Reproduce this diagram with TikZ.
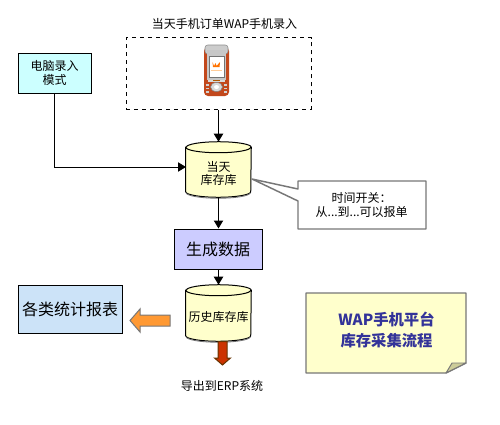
\documentclass[tikz,border=0pt]{standalone}
\usepackage{fontspec}
\setmainfont{Noto Sans CJK SC}
\usetikzlibrary{arrows.meta,calc}
\def\pu{0.75pt}
\definecolor{dbfill}{HTML}{FFFFCC}
\definecolor{graybd}{HTML}{777777}
\definecolor{titleblue}{HTML}{333399}
\definecolor{phonered}{HTML}{C2481C}
\definecolor{pcfill}{HTML}{CCFFFF}
\definecolor{genfill}{HTML}{CCCCFF}
\definecolor{repfill}{HTML}{CCE3F8}
\definecolor{redbd}{HTML}{663300}
\definecolor{redfill}{HTML}{CC3300}
\definecolor{orangefill}{HTML}{FF9933}
\definecolor{foldfill}{HTML}{CCCC99}
\tikzset{
  x=0.75pt,y=-0.75pt,
  plain/.style={font=\fontsize{9pt}{9.75pt}\selectfont,align=center,inner sep=0pt},
  boxed/.style={draw=black,line width=0.75pt,align=center,inner sep=0pt},
  big/.style={font=\fontsize{12pt}{15pt}\selectfont},
  dbase/.style={minimum width=65*\pu,inner sep=0pt,align=center,plain},
  drum/.style={draw=black,line width=0.75pt,fill=dbfill},
  link/.style={draw=black,line width=0.75pt,-{Triangle[length=6pt,width=7pt]}},
  grayline/.style={draw=graybd,line width=1.1pt,line join=round},
}
\newcommand\drumshape[1]{%
  \path[drum] ($(#1.north west)+(0,5.5)$) -- ($(#1.south west)+(0,-5.5)$)
    arc[start angle=180,end angle=360,x radius=24.375pt,y radius=4.125pt]
    -- ($(#1.north east)+(0,5.5)$)
    arc[start angle=0,end angle=180,x radius=24.375pt,y radius=4.125pt] -- cycle;
  \draw[black,line width=0.75pt] ($(#1.north west)+(0,5.5)$)
    arc[start angle=180,end angle=360,x radius=24.375pt,y radius=4.125pt];
  \draw[black!55,line width=0.6pt] ($(#1.south west)+(0.5,-4.5)$)
    arc[start angle=180,end angle=360,x radius=24pt,y radius=4.125pt];
}
\begin{document}
\begin{tikzpicture}
\useasboundingbox (0,0) rectangle (500,425);
\fill[white] (0,0) rectangle (500,425);

\node[plain] (title) at (224.5,24) {当天手机订单WAP手机录入};
\node[draw=black,dashed,line width=0.75pt,minimum width=185*\pu,minimum height=71.5*\pu,inner sep=0pt] (wapbox) at (218.5,73.5) {};

% phone
\fill[phonered,rounded corners=3pt] (204,47) rectangle (229,96);
\filldraw[draw=black!45,fill=black!20,rounded corners=2pt,line width=0.4pt] (205,45) rectangle (228,54);
\fill[black!22] (207,50) rectangle (226,80);
\filldraw[draw=black!55,fill=white,line width=0.5pt] (209,56) rectangle (224,77);
\fill[orange!90!red] (212.5,62) -- (214,66) -- (215.5,63) -- (216.5,66) -- (220,62) -- (219.5,67) -- (213,67) -- cycle;
\fill[orange!40] (211,70) rectangle (222,71);
\fill[black!15] (208,80) rectangle (225,82);
\fill[orange!70!black] (213,79.5) rectangle (220,80.5);
\filldraw[draw=black!50,fill=black!15,line width=0.4pt] (216.5,87) ellipse (6 and 4.5);
\fill[white] (216.5,87) ellipse (2.5 and 2);
\foreach \py in {85,88.5,92}{\fill[white!82!black] (206,\py-1) rectangle (209,\py+.6); \fill[white!82!black] (224,\py-1) rectangle (227,\py+.6);}

\node[boxed,plain,font=\fontsize{9pt}{10.8pt}\selectfont,fill=pcfill,minimum width=73*\pu,minimum height=40*\pu] (pc) at (54.5,73) {电脑录入\\模式};
\node[dbase,minimum height=55*\pu] (stock) at (218.5,169.5) {};
\drumshape{stock}
\node[plain] (stocktext) at (218.5,173.5) {当天\\库存库};
\node[boxed,big,fill=genfill,minimum width=88*\pu,minimum height=40*\pu] (gen) at (218,249) {生成数据};
\node[dbase,minimum height=56*\pu] (hist) at (218.5,313) {};
\drumshape{hist}
\node[plain] (histtext) at (218.5,316.5) {历史库存库};
\node[boxed,big,fill=repfill,minimum width=104*\pu,minimum height=48*\pu] (rep) at (70,309) {各类统计报表};
\node[plain] (erp) at (222,386) {导出到ERP系统};

% block arrows
\path[draw=graybd,line width=0.75pt,fill=orangefill,line join=miter] (130,320.5) -- (140,309) -- (140,315) -- (170,315) -- (170,326) -- (140,326) -- (140,332) -- cycle;
\path[draw=redbd,line width=0.75pt,fill=redfill] (222.5,365) -- (214.5,358) -- (218,358) -- (218,341.5) -- (227,341.5) -- (227,358) -- (230.5,358) -- cycle;

% callout
\coordinate (calltip) at (252,179);
\path[grayline,fill=white] (calltip) -- (298,189) -- (298,181) -- (426,181) -- (426,229) -- (298,229) -- (298,201) -- cycle;
\node[plain,font=\fontsize{9pt}{10.5pt}\selectfont] (call) at (361.7,205) {时间开关：\\从...到...可以报单};

% note
\path[grayline,fill=dbfill] (306,293) -- (466,293) -- (466,363) -- (446,373) -- (306,373) -- cycle;
\path[grayline,line width=0.7pt,fill=foldfill] (446,373) -- (452,363) -- (466,363) -- cycle;
\node[plain,text=titleblue,font=\fontsize{11.5pt}{15.75pt}\selectfont\bfseries] (noteText) at (386.5,330) {WAP手机平台\\库存采集流程};

\draw[link] (wapbox.south -| stock.north) -- (stock.north);
\draw[link] (pc.south) -- (pc.south |- 0,167) -- (186,167);
\draw[link] (stock.south) -- (stock.south |- gen.north);
\draw[link] (gen.south -| hist.north) -- (hist.north);
\end{tikzpicture}
\end{document}
